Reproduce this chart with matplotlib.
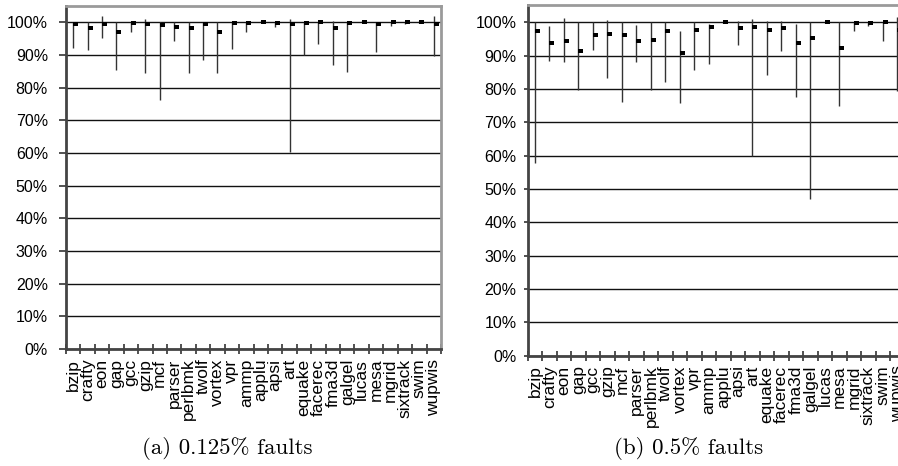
import matplotlib
matplotlib.use("Agg")
import matplotlib.pyplot as plt
from matplotlib.path import Path
from matplotlib.ticker import FixedLocator, FuncFormatter
import numpy as np

benchmarks = ["bzip", "crafty", "eon", "gap", "gcc", "gzip", "mcf", "parser",
              "perlbmk", "twolf", "vortex", "vpr", "ammp", "applu", "apsi", "art",
              "equake", "facerec", "fma3d", "galgel", "lucas", "mesa", "mgrid",
              "sixtrack", "swim", "wupwis"]

# panel (a): 0.125% faults
a_min = [92.2, 91.6, 95.2, 85.5, 96.9, 84.6, 76.1, 94.3, 84.3, 88.3, 84.3, 91.9, 97.1,
         99.9, 98.4, 60.4, 90.1, 93.4, 87.0, 84.7, 99.9, 90.8, 98.9, 99.5, 99.7, 89.6]
a_mean = [99.5, 98.2, 99.4, 97.0, 99.6, 99.5, 99.1, 98.4, 98.2, 99.5, 97.0, 99.8, 99.8,
          100.1, 99.7, 99.4, 99.8, 99.9, 98.2, 99.8, 100.1, 99.3, 100.0, 100.0, 100.1, 99.5]
a_max = [100.0, 100.0, 102.0, 100.0, 100.0, 100.9, 100.0, 100.0, 100.0, 100.0, 100.0, 100.0, 100.0,
         100.3, 100.0, 100.9, 100.0, 100.0, 100.3, 100.0, 100.3, 100.0, 100.1, 100.2, 100.3, 101.8]

# panel (b): 0.5% faults
b_min = [57.7, 88.4, 88.0, 79.7, 91.8, 83.4, 76.2, 88.1, 79.7, 82.2, 75.9, 85.7, 87.5,
         99.8, 93.1, 60.0, 84.3, 91.5, 77.7, 46.9, 99.8, 74.9, 97.3, 98.9, 94.4, 79.4]
b_mean = [97.4, 93.7, 94.5, 91.3, 96.1, 96.5, 96.3, 94.5, 94.7, 97.4, 90.7, 97.6, 98.6,
          100.0, 98.2, 98.5, 97.6, 98.2, 93.7, 95.4, 100.0, 92.2, 99.8, 99.9, 100.0, 97.7]
b_max = [100.0, 98.9, 101.2, 100.0, 100.0, 100.7, 100.0, 99.3, 100.0, 100.0, 97.5, 100.0, 99.5,
         100.2, 100.3, 100.9, 100.5, 100.3, 99.5, 100.0, 100.2, 100.0, 100.0, 100.0, 100.0, 101.7]

y_ticks = [0, 10, 20, 30, 40, 50, 60, 70, 80, 90, 100]
captions = ["(a) 0.125% faults", "(b) 0.5% faults"]

fig = plt.figure(figsize=(8.98, 4.66), dpi=100)

# right-side marker (like a "close" tick)
mark = Path([(0, -0.32), (1, -0.32), (1, 0.32), (0, 0.32), (0, -0.32)],
            [Path.MOVETO, Path.LINETO, Path.LINETO, Path.LINETO, Path.CLOSEPOLY])

panels = [
    dict(pos=[66 / 898, 1 - 349 / 466, 375 / 898, 343.5 / 466], ytop=105.1,
         mn=a_min, me=a_mean, mx=a_max, ticklen=5, pad=8),
    dict(pos=[527.7 / 898, 1 - 355.7 / 466, 377 / 898, 350.7 / 466], ytop=105.2,
         mn=b_min, me=b_mean, mx=b_max, ticklen=3, pad=5),
]

n = len(benchmarks)
xc = np.arange(n) + 0.5
for p in panels:
    ax = fig.add_axes(p["pos"])
    ax.set_xlim(0, n)
    ax.set_ylim(0, p["ytop"])
    for y in y_ticks:
        ax.axhline(y, color="#111111", lw=1.0, zorder=1)
    ax.vlines(xc, p["mn"], p["mx"], color="#333333", lw=1.0, zorder=2)
    ax.plot(xc, p["me"], linestyle="none", marker=mark, markersize=7.5,
            color="black", markeredgewidth=0, zorder=3)
    ax.yaxis.set_major_locator(FixedLocator(y_ticks))
    ax.yaxis.set_major_formatter(FuncFormatter(lambda v, pos: f"{int(v)}%"))
    ax.tick_params(axis="y", direction="out", length=p["ticklen"], width=1.2,
                   color="#333333", pad=p["pad"], labelsize=11.5)
    for lab in ax.get_yticklabels():
        lab.set_fontfamily("Liberation Sans")
    ax.xaxis.set_major_locator(FixedLocator(np.arange(n + 1)))
    ax.xaxis.set_minor_locator(FixedLocator(xc))
    ax.set_xticklabels([""] * (n + 1))
    ax.set_xticklabels(benchmarks, minor=True, rotation=90, family="Liberation Sans",
                       fontsize=12.5, va="top", ha="center")
    ax.tick_params(axis="x", which="major", direction="inout", length=7, width=1.2,
                   color="#333333")
    ax.tick_params(axis="x", which="minor", length=0, pad=7)
    ax.spines["left"].set_color("#444444")
    ax.spines["left"].set_linewidth(2.0)
    ax.spines["bottom"].set_color("#444444")
    ax.spines["bottom"].set_linewidth(2.0)
    for s in ("top", "right"):
        ax.spines[s].set_color("#9a9a9a")
        ax.spines[s].set_linewidth(2.0)

fig.text(227 / 898, 1 - 448 / 466, captions[0], family="cmr10", fontsize=16.5,
         ha="center", va="center")
fig.text(689 / 898, 1 - 448 / 466, captions[1], family="cmr10", fontsize=16.5,
         ha="center", va="center")

fig.savefig("out.png", dpi=100)
